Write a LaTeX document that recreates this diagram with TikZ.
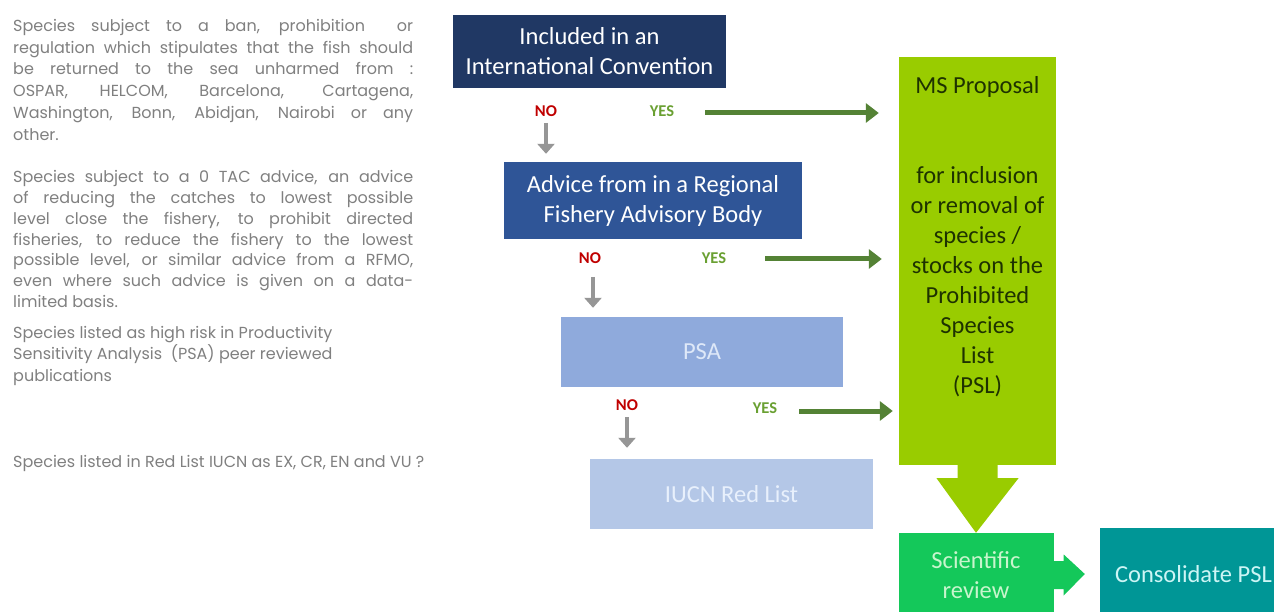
\documentclass[tikz,border=0pt]{standalone}
\usepackage{fontspec}
\setmainfont{Carlito}
\newfontfamily\gothic{Poppins}
\usetikzlibrary{arrows.meta,calc}
\definecolor{navy}{RGB}{32,56,100}
\definecolor{blueb}{RGB}{47,85,151}
\definecolor{bluec}{RGB}{143,170,220}
\definecolor{blued}{RGB}{180,199,231}
\definecolor{psatext}{RGB}{222,232,248}
\definecolor{iucntext}{RGB}{232,240,252}
\definecolor{limeg}{RGB}{153,204,0}
\definecolor{msdark}{RGB}{30,50,0}
\definecolor{scig}{RGB}{20,200,90}
\definecolor{scitext}{RGB}{200,245,205}
\definecolor{tealc}{RGB}{0,150,150}
\definecolor{constext}{RGB}{205,245,245}
\definecolor{garrowc}{RGB}{84,130,53}
\definecolor{grayc}{RGB}{150,150,150}
\definecolor{nored}{RGB}{192,0,0}
\definecolor{yesg}{RGB}{106,160,50}
\definecolor{leftgray}{RGB}{128,128,128}
\newcommand{\jl}[1]{\makebox[400pt][s]{#1}}
\begin{document}
\begin{tikzpicture}[x=1pt,y=-1pt,
  box/.style={inner sep=0pt, align=center, font=\fontsize{24.5}{30}\selectfont, text=white},
  lefttext/.style={anchor=north west, inner sep=0pt, align=left, text=leftgray},
  nolab/.style={inner sep=0pt, text=nored, font=\bfseries\fontsize{16.5}{18}\selectfont},
  yeslab/.style={inner sep=0pt, text=yesg, font=\bfseries\fontsize{16.5}{18}\selectfont},
  garrow/.style={draw=garrowc, line width=5pt, -{Triangle[length=13pt,width=19pt]}},
  grarrow/.style={draw=grayc, line width=4.5pt, -{Triangle[length=10pt,width=17pt]}}
]
\useasboundingbox (0,0) rectangle (1274,612);
\fill[white] (0,0) rectangle (1274,612);

% left texts
\node[lefttext, font=\gothic\fontsize{16}{21.8}\selectfont] (p1) at (13,19) {%
\jl{Species subject to a ban, prohibition \ or}\\
\jl{regulation which stipulates that the fish should}\\
\jl{be returned to the sea unharmed from :}\\
\jl{OSPAR, HELCOM, Barcelona, Cartagena,}\\
\jl{Washington, Bonn, Abidjan, Nairobi or any}\\
other.};
\node[lefttext, font=\gothic\fontsize{16}{20.9}\selectfont] (p2) at (13,170) {%
\jl{Species subject to a 0 TAC advice, an advice}\\
\jl{of reducing the catches to lowest possible}\\
\jl{level close the fishery, to prohibit directed}\\
\jl{fisheries, to reduce the fishery to the lowest}\\
\jl{possible level, or similar advice from a RFMO,}\\
\jl{even where such advice is given on a data-}\\
limited basis.};
\node[lefttext, font=\gothic\fontsize{16}{21.5}\selectfont] (p3) at (13,326) {%
Species listed as high risk in Productivity\\
Sensitivity Analysis \ (PSA) peer reviewed\\
publications};
\node[lefttext, font=\gothic\fontsize{16}{21.5}\selectfont] (p4) at (13,455) {%
Species listed in Red List IUCN as EX, CR, EN and VU ?};

% flow boxes
\node[box, fill=navy, minimum width=273, minimum height=73] (b1) at (589.5,51.5) {Included in an\\International Convention};
\node[box, fill=blueb, minimum width=298, minimum height=77] (b2) at (653,200.5) {Advice from in a Regional\\Fishery Advisory Body};
\node[box, fill=bluec, text=psatext, minimum width=282, minimum height=70] (b3) at (702,352) {PSA};
\node[box, fill=blued, text=iucntext, minimum width=283, minimum height=70] (b4) at (731.5,494) {IUCN Red List};

\node[fill=limeg, inner sep=0pt, minimum width=157, minimum height=408] (ms) at (977.5,261) {};
\node[box, text=msdark] (mst) at (977.5,237) {MS Proposal\\[60pt]for inclusion\\or removal of\\species /\\stocks on the\\Prohibited\\Species\\List\\(PSL)};

\node[box, fill=scig, text=scitext, minimum width=155, minimum height=84] (sci) at (976,575) {Scientific\\review};
\node[box, fill=tealc, text=constext, minimum width=187, minimum height=92] (cons) at (1193.5,574) {Consolidate PSL};

% labels
\node[nolab] (no1) at (546,111) {NO};
\node[yeslab] (yes1) at (662,111) {YES};
\node[nolab] (no2) at (590,258) {NO};
\node[yeslab] (yes2) at (714,258) {YES};
\node[nolab] (no3) at (627,405) {NO};
\node[yeslab] (yes3) at (765,408) {YES};

% green arrows
\coordinate (g1) at (705,113);
\coordinate (g2) at (765,259);
\coordinate (g3) at (799,411);
\draw[garrow] (g1) -- ($(g1 -| ms.west)+(-20,0)$);
\draw[garrow] (g2) -- ($(g2 -| ms.west)+(-17,0)$);
\draw[garrow] (g3) -- ($(g3 -| ms.west)+(-6,0)$);

% gray arrows
\coordinate (d1) at (546,123);
\coordinate (d2) at (593,277);
\coordinate (d3) at (627,417);
\draw[grarrow] (d1) -- ($(d1 |- b2.north)+(0,-8)$);
\draw[grarrow] (d2) -- ($(d2 |- b3.north)+(0,-9)$);
\draw[grarrow] (d3) -- ($(d3 |- b4.north)+(0,-11)$);

% block arrow down
\fill[limeg] ($(ms.south)+(-20,-1)$) -- ($(ms.south)+(20,-1)$) -- ($(ms.south)+(20,13)$) -- ($(ms.south)+(41,13)$) -- (sci.north) -- ($(ms.south)+(-41,13)$) -- ($(ms.south)+(-20,13)$) -- cycle;
% block arrow right
\fill[scig] ($(sci.east)+(-1,-14)$) -- ($(sci.east)+(10,-14)$) -- ($(sci.east)+(10,-20.5)$) -- ($(cons.west)+(-15,0)$) -- ($(sci.east)+(10,20.5)$) -- ($(sci.east)+(10,14)$) -- ($(sci.east)+(-1,14)$) -- cycle;
\end{tikzpicture}
\end{document}
